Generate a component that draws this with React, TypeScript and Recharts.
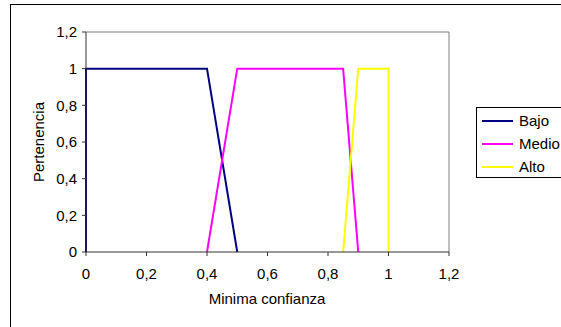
import React from "react";
import { Line, LineChart, ReferenceLine, XAxis, YAxis } from "recharts";

const FONT = "'Liberation Sans', Arial, sans-serif";
const FS = 15;

const X_TICKS = [0, 0.2, 0.4, 0.6, 0.8, 1, 1.2];
const Y_TICKS = [0, 0.2, 0.4, 0.6, 0.8, 1, 1.2];

const bajo = [
  { x: 0, y: 0 },
  { x: 0, y: 1 },
  { x: 0.4, y: 1 },
  { x: 0.5, y: 0 },
];
const medio = [
  { x: 0.4, y: 0 },
  { x: 0.5, y: 1 },
  { x: 0.85, y: 1 },
  { x: 0.9, y: 0 },
];
const alto = [
  { x: 0.85, y: 0 },
  { x: 0.9, y: 1 },
  { x: 1, y: 1 },
  { x: 1, y: 0 },
];

const SERIES = [
  { name: "Bajo", data: bajo, color: "#000080" },
  { name: "Medio", data: medio, color: "#FF00FF" },
  { name: "Alto", data: alto, color: "#FFFF00" },
];

const fmt = (v: number) => String(v).replace(".", ",");

function LegendBox() {
  return (
    <div
      style={{
        position: "absolute",
        left: 476,
        top: 107,
        width: 86,
        height: 71,
        border: "1px solid #000",
        boxSizing: "border-box",
        background: "#fff",
        paddingTop: 1,
      }}
    >
      {SERIES.map((s) => (
        <div key={s.name} style={{ display: "flex", alignItems: "center", height: 23 }}>
          <div style={{ width: 31, height: 2, background: s.color, marginLeft: 5 }} />
          <span style={{ marginLeft: 6, fontSize: FS, fontFamily: FONT, color: "#000", whiteSpace: "nowrap" }}>
            {s.name}
          </span>
        </div>
      ))}
    </div>
  );
}

export default function App() {
  return (
    <div style={{ position: "fixed", left: 0, top: 0, width: 561, height: 327, background: "#fff", overflow: "hidden" }}>
      <div
        style={{
          position: "absolute",
          left: 10,
          top: 4,
          width: 600,
          height: 400,
          border: "1px solid #000",
        }}
      />
      <LineChart
        width={561}
        height={327}
        margin={{ top: 32, right: 112, left: 36, bottom: 45 }}
        style={{ position: "absolute", left: 0, top: 0, fontFamily: FONT }}
      >
        <XAxis
          dataKey="x"
          type="number"
          domain={[0, 1.2]}
          ticks={X_TICKS}
          tickFormatter={fmt}
          height={30}
          tickSize={4}
          tickMargin={12}
          stroke="#333"
          tick={{ fill: "#000", fontSize: FS }}
          allowDuplicatedCategory={false}
          label={{
            content: () => (
              <text x={267} y={304} textAnchor="middle" fontSize={FS} fill="#000" fontFamily={FONT}>
                Minima confianza
              </text>
            ),
          }}
        />
        <YAxis
          dataKey="y"
          type="number"
          domain={[0, 1.2]}
          ticks={Y_TICKS}
          tickFormatter={fmt}
          width={50}
          tickSize={4}
          tickMargin={5}
          stroke="#333"
          tick={{ fill: "#000", fontSize: FS }}
          label={{
            content: () => (
              <text
                transform="translate(44,142) rotate(-90)"
                textAnchor="middle"
                fontSize={FS}
                fill="#000"
                fontFamily={FONT}
              >
                Pertenencia
              </text>
            ),
          }}
        />
        <ReferenceLine y={1.2} stroke="#808080" />
        <ReferenceLine x={1.2} stroke="#808080" />
        {SERIES.map((s) => (
          <Line
            key={s.name}
            data={s.data}
            dataKey="y"
            name={s.name}
            stroke={s.color}
            strokeWidth={2}
            dot={false}
            activeDot={false}
            isAnimationActive={false}
          />
        ))}
      </LineChart>
      <LegendBox />
    </div>
  );
}
